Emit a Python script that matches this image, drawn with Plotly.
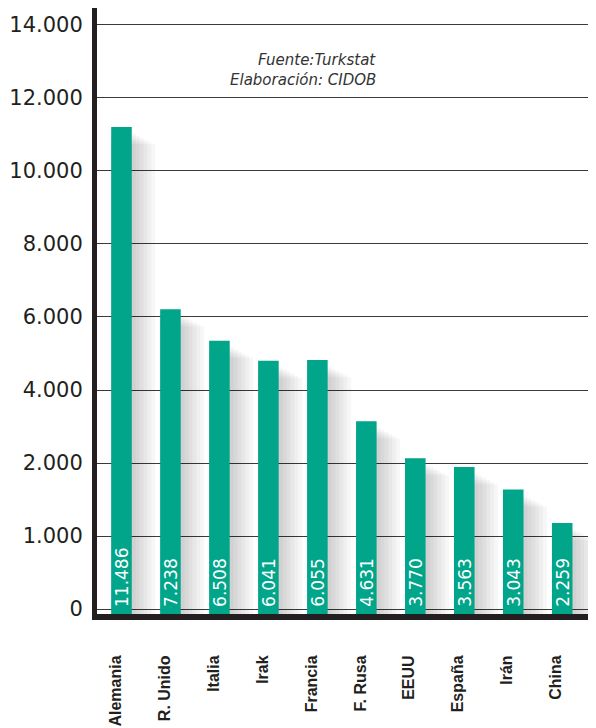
import plotly.graph_objects as go

# data
paises = ['Alemania', 'R. Unido', 'Italia', 'Irak', 'Francia',
          'F. Rusa', 'EEUU', 'España', 'Irán', 'China']
valores = [11486, 7238, 6508, 6041, 6055, 4631, 3770, 3563, 3043, 2259]
etiquetas = ['11.486', '7.238', '6.508', '6.041', '6.055',
             '4.631', '3.770', '3.563', '3.043', '2.259']
ytick_text = ['0', '1.000', '2.000', '4.000', '6.000', '8.000',
              '10.000', '12.000', '14.000']

VERDE = '#00a58a'
NEGRO = '#231f20'

# the printed grid is not evenly tied to the bars: 9 equal steps
tick_step = 1701
tick_base = 256
tickvals = [tick_base + tick_step * i for i in range(len(ytick_text))]
y_min = 140

fig = go.Figure()

# soft shadow to the right of each bar
for k in range(6):
    fig.add_trace(go.Bar(
        x=paises, y=[v - 150 - 50 * k for v in valores],
        width=0.42 + 0.08 * (k + 1), offset=-0.21,
        marker=dict(color='rgba(0,0,0,0.03)', line=dict(width=0)),
        hoverinfo='skip', showlegend=False))

fig.add_trace(go.Bar(
    x=paises, y=valores, width=0.42, offset=-0.21,
    marker=dict(color=VERDE, line=dict(width=0)),
    showlegend=False))

for p, t in zip(paises, etiquetas):
    fig.add_annotation(x=p, y=y_min, xref='x', yref='y', text=t,
                       textangle=-90, showarrow=False,
                       xanchor='center', yanchor='bottom', yshift=5,
                       font=dict(family='DejaVu Sans', size=17, color='white'))

fuente_font = dict(family='DejaVu Sans', size=15, color='#333333',
                   style='italic')
fig.add_annotation(x=0.561, y=0.8977, xref='paper', yref='paper',
                   text='Fuente:Turkstat', showarrow=False, borderpad=0,
                   xanchor='right', yanchor='bottom', font=fuente_font)
fig.add_annotation(x=0.561, y=0.8977, xref='paper', yref='paper',
                   text='Elaboración: CIDOB', showarrow=False, borderpad=0,
                   xanchor='right', yanchor='top', font=fuente_font)

# page body keeps an 8px margin, so the figure is 8px smaller each way
fig.update_layout(
    width=588, height=720,
    margin=dict(l=89, r=0, t=0, b=114),
    paper_bgcolor='white', plot_bgcolor='white',
    barmode='overlay',
    xaxis=dict(showline=True, linewidth=6, linecolor=NEGRO,
               tickangle=-90, ticks='', ticklabelstandoff=29,
               ticklabelshift=-6, showgrid=False, layer='above traces',
               automargin=False,
               tickfont=dict(family='Liberation Sans', size=16, color=NEGRO,
                             weight='bold')),
    yaxis=dict(range=[y_min, 14259], showline=True, linewidth=5,
               linecolor=NEGRO, tickvals=tickvals, ticktext=ytick_text,
               ticks='', ticklabelstandoff=5,
               showgrid=True, gridcolor='#3a3a3a', gridwidth=1.2,
               zeroline=False, layer='above traces', automargin=False,
               tickfont=dict(family='DejaVu Sans', size=21, color=NEGRO)),
)

fig.write_html('out.html')
